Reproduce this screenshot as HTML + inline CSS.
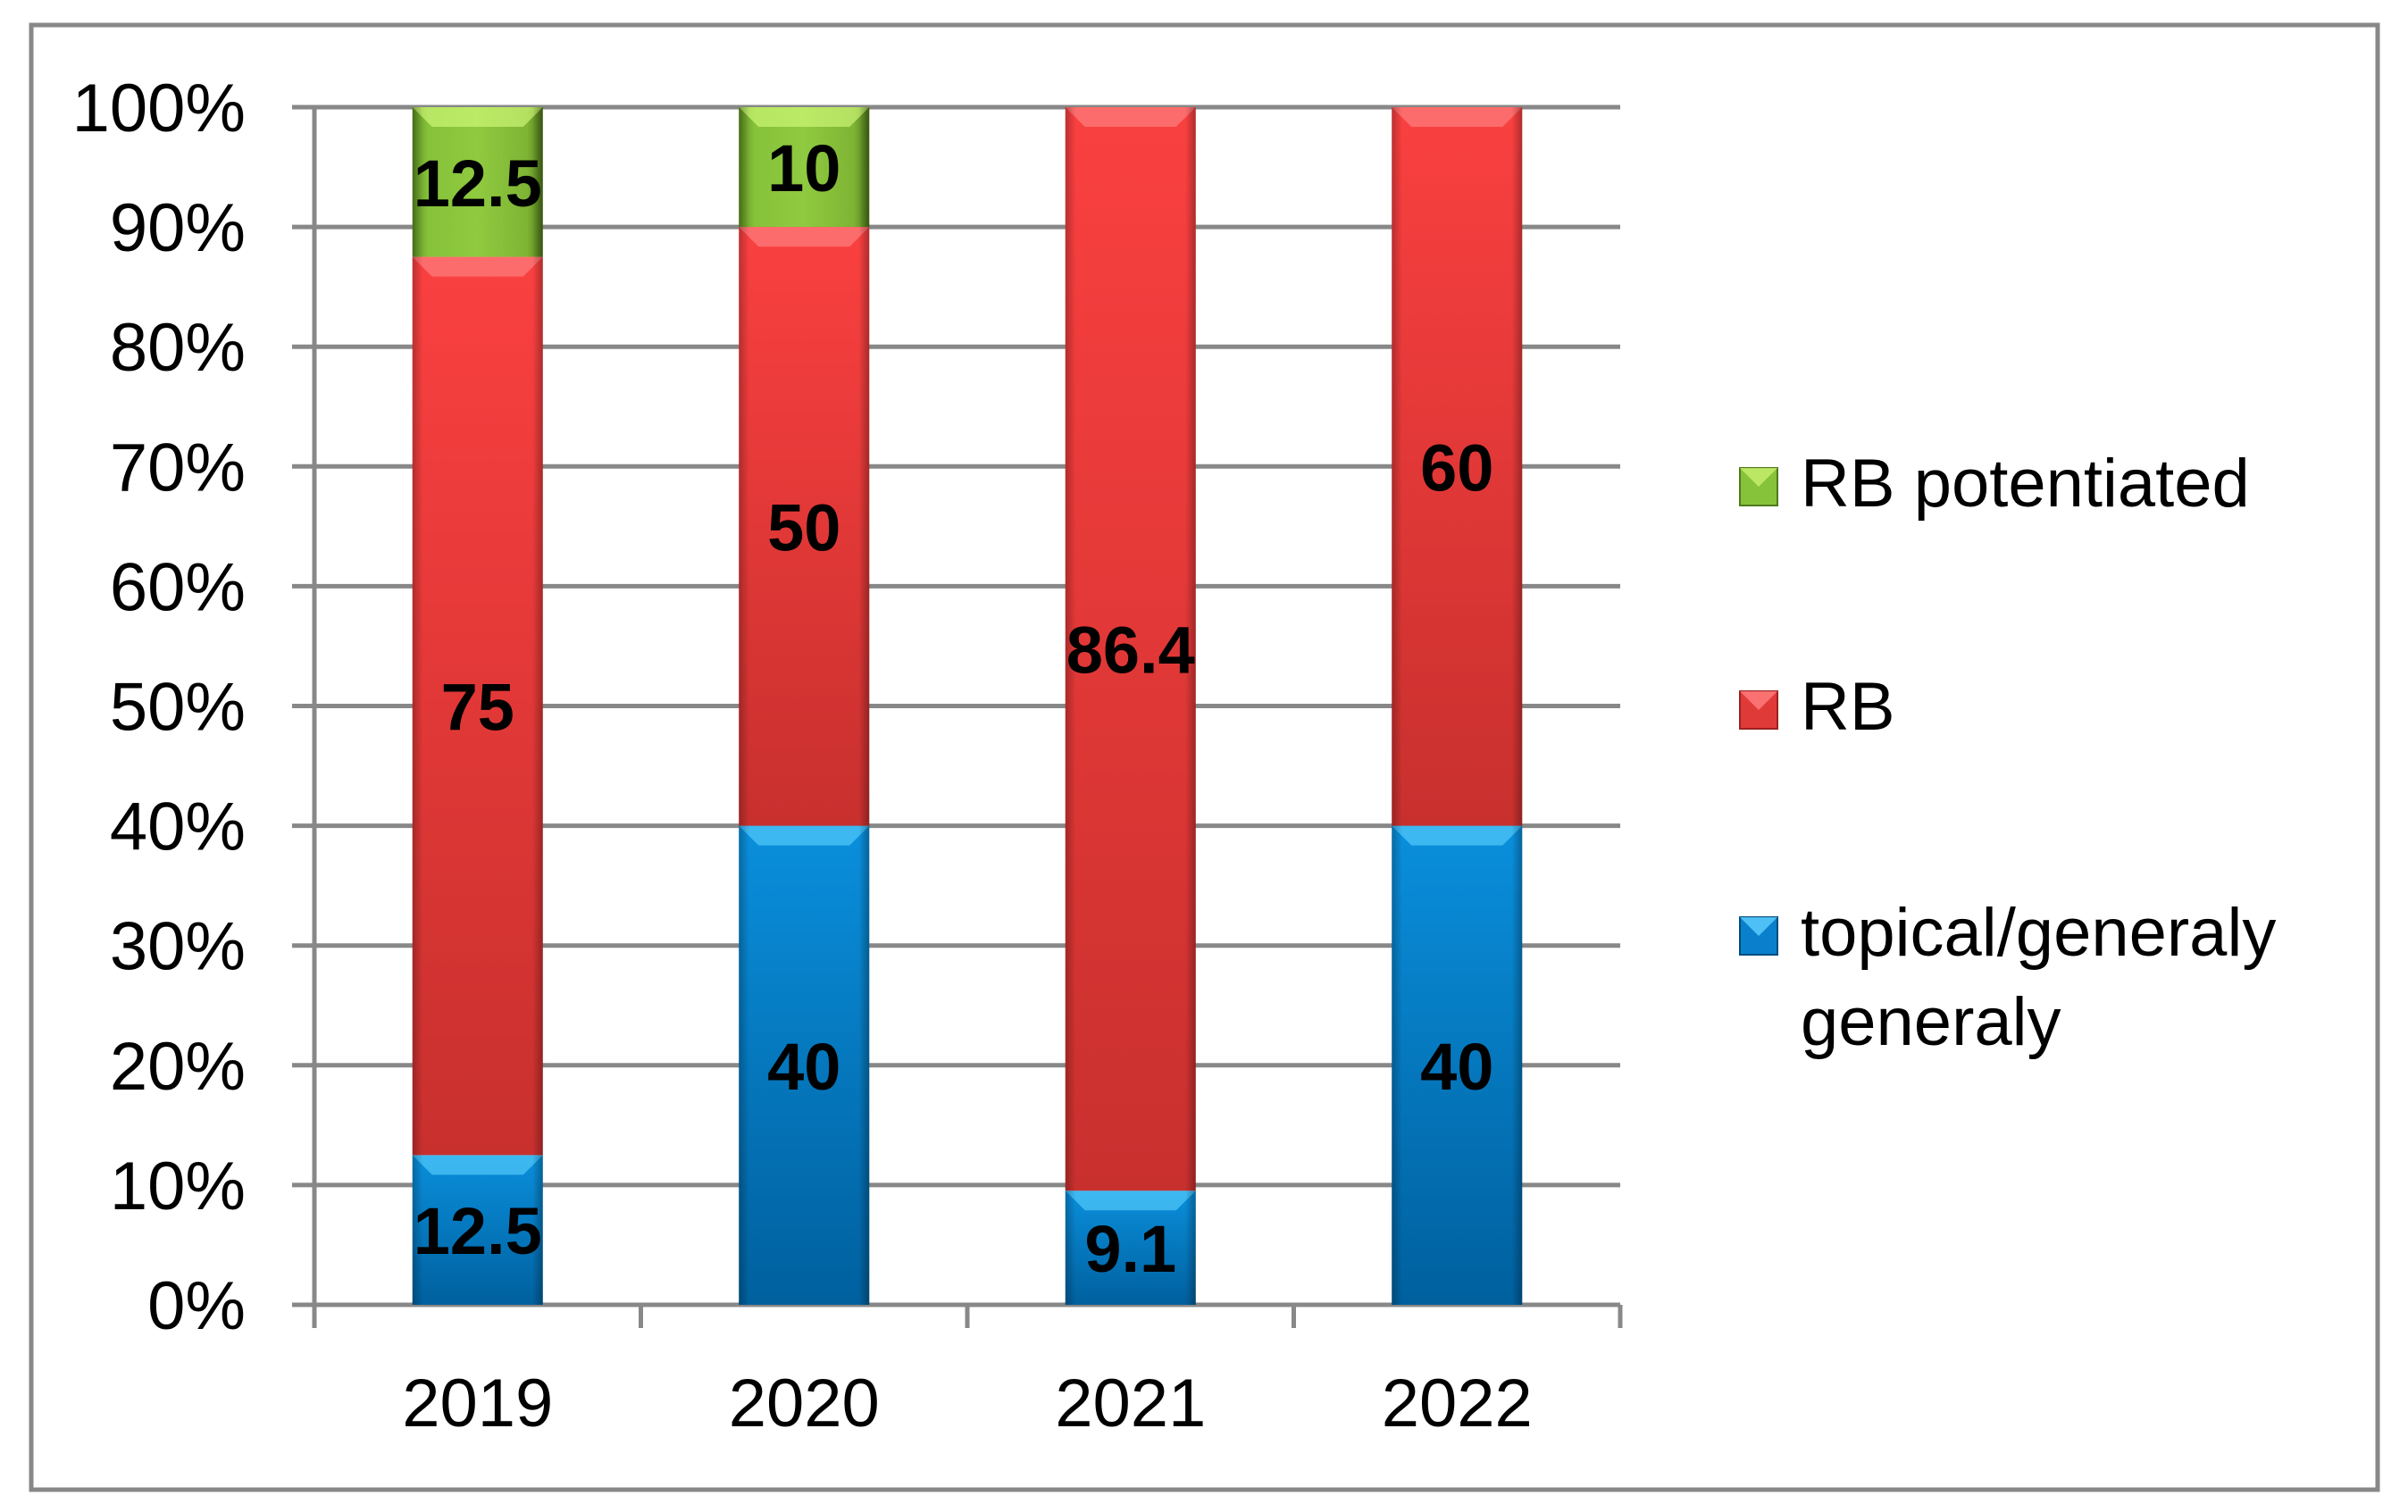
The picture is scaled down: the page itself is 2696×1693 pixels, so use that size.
<!DOCTYPE html>
<html><head><meta charset="utf-8">
<style>
html,body{margin:0;padding:0;background:#fff;}
svg{display:block;}
text{font-family:"Liberation Sans",sans-serif;}
</style></head>
<body>
<svg id="chart" width="2696" height="1693" viewBox="0 0 2696 1693" xmlns="http://www.w3.org/2000/svg">
<defs>
  <linearGradient id="gGreen" x1="0" y1="0" x2="1" y2="0">
    <stop offset="0" stop-color="#5f8f22"/><stop offset="0.12" stop-color="#86c23a"/><stop offset="0.5" stop-color="#8fca40"/><stop offset="0.88" stop-color="#7fb434"/><stop offset="1" stop-color="#4f7a1a"/>
  </linearGradient>
  <linearGradient id="gRed" x1="0" y1="0" x2="0" y2="1">
    <stop offset="0" stop-color="#fa4040"/><stop offset="1" stop-color="#c8302e"/>
  </linearGradient>
  <linearGradient id="gBlue" x1="0" y1="0" x2="0" y2="1">
    <stop offset="0" stop-color="#0a8fdc"/><stop offset="1" stop-color="#00609e"/>
  </linearGradient>
  <linearGradient id="gEdge" x1="0" y1="0" x2="1" y2="0">
    <stop offset="0" stop-color="#000" stop-opacity="0.25"/><stop offset="0.08" stop-color="#000" stop-opacity="0"/><stop offset="0.92" stop-color="#000" stop-opacity="0"/><stop offset="1" stop-color="#000" stop-opacity="0.3"/>
  </linearGradient>
</defs>
<rect x="35" y="28" width="2627" height="1640" fill="#fff" stroke="#888" stroke-width="5"/>
<g id="grid"></g>
<g id="bars"></g>
<g id="labels"></g>
<g id="legend">
  <g>
    <rect x="1948" y="524" width="42" height="42" fill="#86c23a" stroke="#4f7a1a" stroke-width="2"/>
    <polygon points="1948,524 1990,524 1969,545" fill="#c8f070" opacity="0.8"/>
    <text x="2016" y="567" font-size="76" fill="#000">RB potentiated</text>
  </g>
  <g>
    <rect x="1948" y="774" width="42" height="42" fill="#e03a38" stroke="#9c2020" stroke-width="2"/>
    <polygon points="1948,774 1990,774 1969,795" fill="#ff8080" opacity="0.8"/>
    <text x="2016" y="817" font-size="76" fill="#000">RB</text>
  </g>
  <g>
    <rect x="1948" y="1027" width="42" height="42" fill="#0a80cc" stroke="#004d80" stroke-width="2"/>
    <polygon points="1948,1027 1990,1027 1969,1048" fill="#60d0ff" opacity="0.8"/>
    <text x="2016" y="1070" font-size="76" fill="#000">topical/generaly</text>
    <text x="2016" y="1170" font-size="76" fill="#000">generaly</text>
  </g>
</g>
</svg>
<script>
const categories = ["2019", "2020", "2021", "2022"];
const seriesTopical = [12.5, 40, 9.1, 40];
const seriesRB = [75, 50, 86.4, 60];
const seriesPotentiated = [12.5, 10, 0, 0];
const yTicks = [0, 10, 20, 30, 40, 50, 60, 70, 80, 90, 100];

const NS = "http://www.w3.org/2000/svg";
const plotL = 352, plotR = 1814, y0 = 1461, y100 = 120;
const band = (plotR - plotL) / categories.length;
const barW = 146;
function yPos(p){ return y0 - (p/100)*(y0 - y100); }
function xCenter(i){ return plotL + band*(i+0.5); }
function mk(tag, attrs, parent){
  const e = document.createElementNS(NS, tag);
  for (const k in attrs) e.setAttribute(k, attrs[k]);
  parent.appendChild(e);
  return e;
}
const grid = document.getElementById("grid");
const bars = document.getElementById("bars");
const labels = document.getElementById("labels");

yTicks.forEach(t => {
  const y = yPos(t);
  const l = mk("line", {x1:327, x2:plotR, y1:y, y2:y, stroke:"#888", "stroke-width":5}, grid);
  
  
  const tx = mk("text", {x:275, y:y+27, "font-size":76, "text-anchor":"end", fill:"#000"}, labels);
  tx.textContent = t + "%";
  
  
});
const ax = mk("line", {x1:plotL, x2:plotL, y1:y100, y2:y0+26, stroke:"#888", "stroke-width":5}, grid);


for (let i=0;i<=categories.length;i++){
  const x = plotL + band*i;
  const tk = mk("line", {x1:x, x2:x, y1:y0, y2:y0+26, stroke:"#888", "stroke-width":5}, grid);
  
  
}

const segs = [
  {vals: seriesTopical, fill:"url(#gBlue)", hi:"#5fd4ff", name:"topical"},
  {vals: seriesRB, fill:"url(#gRed)", hi:"#ff8a8a", name:"rb"},
  {vals: seriesPotentiated, fill:"url(#gGreen)", hi:"#d8ff80", name:"potentiated"}
];
categories.forEach((c, i) => {
  const xc = xCenter(i), x = xc - barW/2;
  const total = segs.reduce((a, s) => a + Math.max(0, s.vals[i]), 0) || 1;
  let cum = 0;
  segs.forEach(s => {
    const v = s.vals[i];
    if (v <= 0) return;
    const pct = v / total * 100;
    const yt = yPos(cum + pct), yb = yPos(cum);
    const h = yb - yt;
    const r = mk("rect", {x:x, y:yt, width:barW, height:h, fill:s.fill}, bars);
    
    
    const bev = Math.min(22, h/3);
    const p = mk("polygon", {points: x+","+yt+" "+(x+barW)+","+yt+" "+(x+barW-bev)+","+(yt+bev)+" "+(x+bev)+","+(yt+bev), fill:s.hi, opacity:0.6}, bars);
    
    
    const e = mk("rect", {x:x, y:yt, width:barW, height:h, fill:"url(#gEdge)"}, bars);
    
    
    const t = mk("text", {x:xc, y:(yt+yb)/2+27, "font-size":74, "font-weight":"bold", "text-anchor":"middle", fill:"#000"}, labels);
    t.textContent = String(v);
    
    
    cum += pct;
  });
  const xl = mk("text", {x:xc, y:1597, "font-size":76, "text-anchor":"middle", fill:"#000"}, labels);
  xl.textContent = c;
  
  
});
</script>
</body></html>
